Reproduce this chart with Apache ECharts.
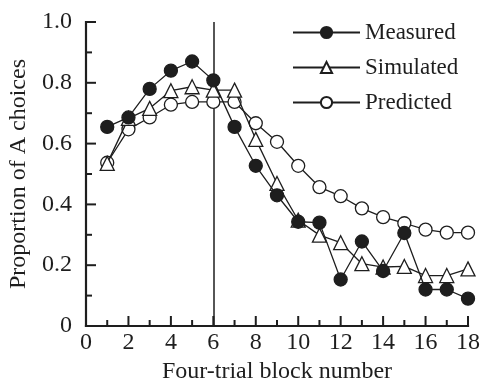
<!DOCTYPE html>
<html><head><meta charset="utf-8">
<script src="https://cdn.jsdelivr.net/npm/echarts@6/dist/echarts.min.js"></script>
<style>html,body{margin:0;padding:0;background:#fff}#c{width:481px;height:383px}</style>
</head><body><div id="c"></div>
<script>
const blocks = [1,2,3,4,5,6,7,8,9,10,11,12,13,14,15,16,17,18];
const measured = [0.655,0.686,0.780,0.840,0.870,0.808,0.655,0.527,0.430,0.343,0.340,0.153,0.278,0.181,0.306,0.120,0.120,0.090];
const simulated = [0.535,0.683,0.716,0.774,0.787,0.776,0.776,0.614,0.469,0.348,0.299,0.274,0.205,0.194,0.196,0.166,0.166,0.188];
const predicted = [0.537,0.647,0.686,0.728,0.737,0.737,0.737,0.667,0.606,0.527,0.457,0.427,0.387,0.358,0.338,0.317,0.307,0.307];
const seriesNames = ['Measured','Simulated','Predicted'];
const xTicks = [0,2,4,6,8,10,12,14,16,18];
const yTicks = [0,0.2,0.4,0.6,0.8,1.0];
const refX = 6, refY = 0.5;
const xTitle = 'Four-trial block number';
const yTitle = 'Proportion of A choices';

const ink = '#1e1e1e';
const font = 'Liberation Serif';
function mk(name, vals, symbol, fill, z) {
  return {
    name, type: 'line', z, data: blocks.map((b,i)=>[b, vals[i]]),
    symbol, symbolSize: symbol==='triangle'?14:13,
    lineStyle: {color: ink, width: 1.3},
    itemStyle: {color: fill, borderColor: ink, borderWidth: 1.3}
  };
}
const sPred = mk(seriesNames[2], predicted, 'circle', '#fff', 3);
const sSim = mk(seriesNames[1], simulated, 'triangle', '#fff', 4);
const sMeas = mk(seriesNames[0], measured, 'circle', ink, 5);
sPred.markLine = {symbol: 'none', silent: true, label: {show: false}, z: 1,
  lineStyle: {color: ink, width: 1.5, type: 'solid'},
  data: [
    [{coord: [refX, 0]}, {coord: [refX, 1]}],
    [{coord: [0, refY]}, {coord: [18.05, refY]}]
  ]};
const xMin = xTicks[0], xMax = xTicks[xTicks.length-1];
const yMin = yTicks[0], yMax = yTicks[yTicks.length-1];
const chart = echarts.init(document.getElementById('c'));
chart.setOption({
  animation: false,
  grid: {left: 86, right: 13, top: 22, bottom: 57, outerBoundsMode: 'none', containLabel: false},
  legend: {
    data: seriesNames, orient: 'vertical', left: 287, top: 16,
    itemWidth: 67, itemHeight: 14, itemGap: 12,
    textStyle: {fontFamily: font, fontSize: 23, color: ink}
  },
  xAxis: {
    type: 'value', min: xMin, max: xMax, interval: xTicks[1]-xTicks[0],
    name: xTitle, nameLocation: 'middle', nameGap: 32,
    nameTextStyle: {fontFamily: font, fontSize: 24, color: ink},
    axisLine: {show: false}, axisTick: {show: false}, splitLine: {show: false},
    axisLabel: {fontFamily: font, fontSize: 24, color: ink, margin: 5}
  },
  yAxis: {
    type: 'value', min: yMin, max: yMax, interval: yTicks[1]-yTicks[0],
    name: yTitle, nameLocation: 'middle', nameGap: 54,
    nameTextStyle: {fontFamily: font, fontSize: 24, color: ink},
    axisLine: {show: false}, axisTick: {show: false}, splitLine: {show: false},
    axisLabel: {fontFamily: font, fontSize: 24, color: ink, margin: 14,
      formatter: v => v === 0 ? '0' : v.toFixed(1)}
  },
  series: [sPred, sSim, sMeas]
});
// axis lines and inward ticks, positioned through the chart's own scales
const px = (x, y) => chart.convertToPixel({gridIndex: 0}, [x, y]);
const els = [];
const seg = (a, b, w) => els.push({type: 'line', silent: true, z: 2,
  shape: {x1: a[0], y1: a[1], x2: b[0], y2: b[1]},
  style: {stroke: ink, lineWidth: w, lineCap: 'square'}});
const o = px(xMin, yMin);
seg(o, px(xMax, yMin), 2.2);
seg(o, px(xMin, yMax), 2.2);
xTicks.forEach((t, i) => {
  const p = px(t, yMin);
  seg([p[0], p[1]], [p[0], p[1] - 9], 2);
  if (i < xTicks.length - 1) {
    const q = px((t + xTicks[i+1]) / 2, yMin);
    seg([q[0], q[1]], [q[0], q[1] - 5], 2);
  }
});
yTicks.forEach((t, i) => {
  const p = px(xMin, t);
  seg([p[0], p[1]], [p[0] + 9, p[1]], 2);
  if (i < yTicks.length - 1) {
    const q = px(xMin, (t + yTicks[i+1]) / 2);
    seg([q[0], q[1]], [q[0] + 5, q[1]], 2);
  }
});
chart.setOption({graphic: {elements: els}});
</script></body></html>
